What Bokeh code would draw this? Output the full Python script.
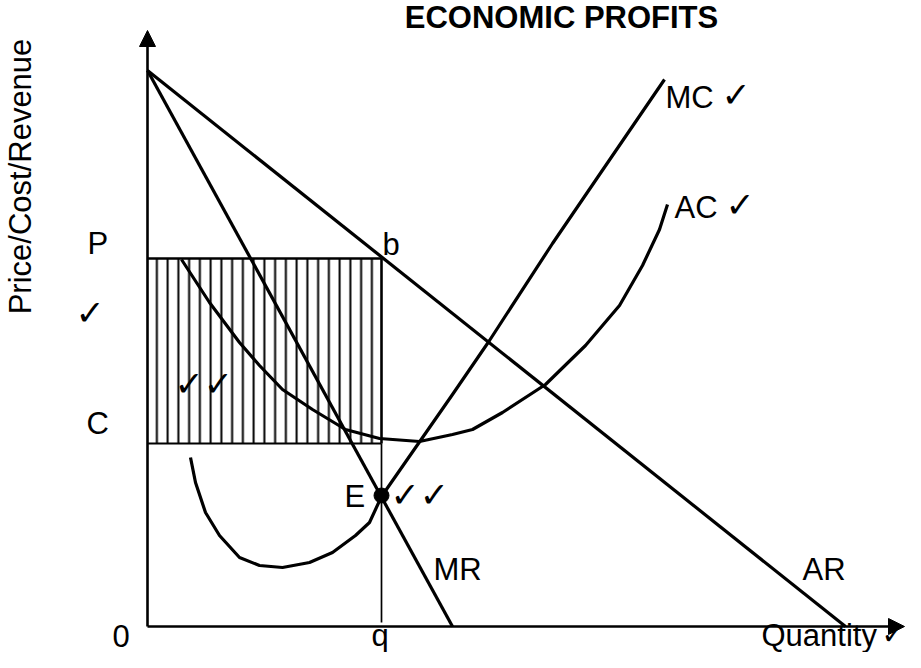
import numpy as np
from bokeh.plotting import figure
from bokeh.models import Range1d, Arrow, NormalHead
from bokeh.core.properties import value
from bokeh.embed import file_html
from bokeh.resources import INLINE

# ---- data (quantity units, price units) ----
q_axis_end = 757
p_axis_end = 596

ar_q = [0, 698]
ar_p = [556, 0]

mr_q = [0, 305]
mr_p = [556, 0]

mc_q = [43, 48, 58, 72, 92, 112, 135, 162, 185, 208, 222, 234, 305, 342, 405, 450, 517]
mc_p = [169, 144, 114, 91, 69, 61, 59, 64, 74, 91, 104, 130, 232, 286, 383, 449, 547]

ac_q = [34, 62, 92, 112, 135, 165, 198, 232, 272, 305, 325, 355, 398, 438, 472, 495, 512, 520]
ac_p = [367, 324, 284, 261, 237, 217, 197, 188, 185, 192, 197, 214, 242, 281, 321, 361, 397, 422]

q_star = 234
price_P = 368
cost_C = 183
e_q = 234
e_p = 131

title_text = "ECONOMIC PROFITS"
y_label = "Price/Cost/Revenue"
x_label = "Quantity"
tick = "\u2713"

FONT = value("Liberation Sans")
CHECK_FONT = value("DejaVu Sans")

p = figure(width=905, height=652,
           x_range=Range1d(-147, 758), y_range=Range1d(-26, 626),
           x_axis_type=None, y_axis_type=None,
           output_backend="svg", toolbar_location=None, min_border=0)
p.grid.visible = False
p.outline_line_color = None
p.background_fill_color = "white"
p.border_fill_color = "white"

# shaded profit rectangle
p.quad(left=0, right=q_star, bottom=cost_C, top=price_P,
       fill_color=None, line_color=None,
       hatch_pattern="|", hatch_scale=10.75, hatch_weight=2.0, hatch_color="black")
p.line([0, q_star], [price_P, price_P], line_color="black", line_width=2.6)
p.line([q_star, q_star], [price_P, cost_C], line_color="black", line_width=2.6)
p.line([0, q_star], [cost_C, cost_C], line_color="black", line_width=2.0)
p.line([q_star, q_star], [cost_C, 4], line_color="black", line_width=1.7)

# curves
lw = 3.2
p.line(ar_q, ar_p, line_color="black", line_width=lw)
p.line(mr_q, mr_p, line_color="black", line_width=lw)
p.line(mc_q, mc_p, line_color="black", line_width=lw, line_join="round")
p.line(ac_q, ac_p, line_color="black", line_width=lw, line_join="round")

# axes with arrows
p.add_layout(Arrow(x_start=0, y_start=0, x_end=0, y_end=p_axis_end,
                   line_width=2.6, line_color="black",
                   end=NormalHead(size=16, fill_color="black", line_color="black", line_width=1)))
p.add_layout(Arrow(x_start=0, y_start=0, x_end=q_axis_end, y_end=0,
                   line_width=2.6, line_color="black",
                   end=NormalHead(size=16, fill_color="black", line_color="black", line_width=1)))

# equilibrium point
p.scatter([e_q], [e_p], size=15, color="black")

def txt(x, y, s, size="31px", font=FONT, style="normal", align="left", angle=0.0):
    p.text([x], [y], text=[s], text_font=font, text_font_size=size,
           text_font_style=style, text_align=align, text_baseline="alphabetic",
           text_color="black", angle=angle)

txt(414, 609, title_text, style="bold", align="center")
txt(-127, 450, y_label, angle=np.pi / 2, align="center")
txt(-60, price_P + 15, "P")
txt(-61, cost_C + 20, "C")
txt(-35, -9, "0")
txt(q_star - 10, -9, "q")
txt(q_star + 1, price_P + 14, "b")
txt(e_q - 37, e_p - 1, "E")
txt(mc_q[-1] + 1, mc_p[-1] - 18, "MC")
txt(ac_q[-1] + 7, ac_p[-1] - 3, "AC")
txt(286, 57, "MR")
txt(655, 57, "AR")
txt(614, -9, x_label)

CS = "35px"
txt(mc_q[-1] + 57, mc_p[-1] - 15, tick, size=CS, font=CHECK_FONT)
txt(ac_q[-1] + 58, ac_p[-1], tick, size=CS, font=CHECK_FONT)
txt(-72, 314, tick, size=CS, font=CHECK_FONT)
txt(27, 243, tick + tick, size=CS, font=CHECK_FONT)
txt(e_q + 9, e_p + 1, tick + tick, size=CS, font=CHECK_FONT)
txt(734, -8, tick, size="28px", font=CHECK_FONT)

open("out.html", "w").write(file_html(p, INLINE))
